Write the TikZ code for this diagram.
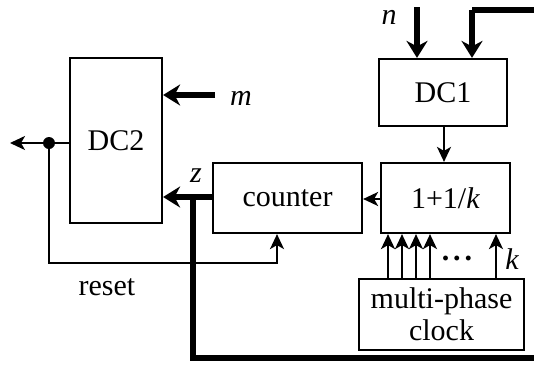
\documentclass[tikz,border=0pt]{standalone}
\usepackage{fontspec}
\setmainfont{Liberation Serif}
\usetikzlibrary{arrows.meta}
\begin{document}
\begin{tikzpicture}[x=1pt,y=-1pt,
  blk/.style={draw,line width=2.2pt,minimum width=#1,inner sep=0pt,font=\fontsize{30}{32}\selectfont},
  thin/.style={line width=2pt,-{Stealth[length=15pt,width=14pt,inset=4pt]}},
  thick/.style={line width=6pt,-{Stealth[length=17pt,width=21pt]}},
  bus/.style={line width=6pt},
  lbl/.style={font=\fontsize{30}{32}\selectfont\itshape,inner sep=0pt}]
\useasboundingbox (0,0) rectangle (534,372);
\node[blk=92pt,minimum height=165pt] (DC2) at (116,140.5) {DC2};
\node[blk=149pt,minimum height=70pt] (cnt) at (287.5,198) {counter};
\node[blk=129pt,minimum height=70pt] (onek) at (445.5,198) {1+1/\textit{k}};
\node[blk=128pt,minimum height=67pt] (DC1) at (443,92.5) {DC1};
\node[blk=165pt,minimum height=71pt,align=center,font=\fontsize{30}{32}\selectfont] (clk) at (441.5,314.5) {multi-phase\\clock};
% m input
\coordinate (mS) at (215,95);
\node[lbl,anchor=west] (m) at (230,98) {m};
\draw[thick] (mS) -- (DC2.east |- mS);
% output with dot
\coordinate (dotc) at (49,143);
\coordinate (out) at (10,143);
\fill (dotc) circle (6pt);
\draw[thin] (DC2.west |- dotc) -- (out);
% reset
\coordinate (rs) at (277,263);
\draw[thin] (dotc) |- (rs) -- (rs |- cnt.south);
\node[font=\fontsize{30}{32}\selectfont,inner sep=0pt] (reset) at (107,287) {reset};
% z
\coordinate (zc) at (193,197);
\draw[thick] (cnt.west |- zc) -- (DC2.east |- zc);
\node[lbl] (z) at (196,176) {z};
% feedback bus
\coordinate (b1) at (193,358);
\coordinate (b2) at (545,358);
\coordinate (b3) at (545,10);
\coordinate (b4) at (472,10);
\draw[bus] (zc) -- (b1) -- (b2) -- (b3) -- (b4);
\draw[thick] (b4) -- (b4 |- DC1.north);
% n
\coordinate (nS) at (417,7);
\draw[thick] (nS) -- (nS |- DC1.north);
\node[lbl] (n) at (389,17) {n};
% DC1 -> onek
\draw[thin] (DC1.south -| 444,0) -- (onek.north -| 444,0);
% onek -> counter
\draw[thin] (onek.west |- 0,199) -- (cnt.east |- 0,199);
% clock phases
\foreach \xx/\nm in {388/p1,402/p2,416/p3,430/p4,496/pk}{
  \coordinate (\nm) at (\xx,0);
  \draw[thin] (clk.north -| \nm) -- (onek.south -| \nm);
}
\node[font=\fontsize{30}{32}\selectfont\bfseries,inner sep=0pt,anchor=base] (dots) at (457,260) {.\hspace{4pt}.\hspace{4pt}.};
\node[lbl] (k) at (512,259) {k};
\end{tikzpicture}
\end{document}
